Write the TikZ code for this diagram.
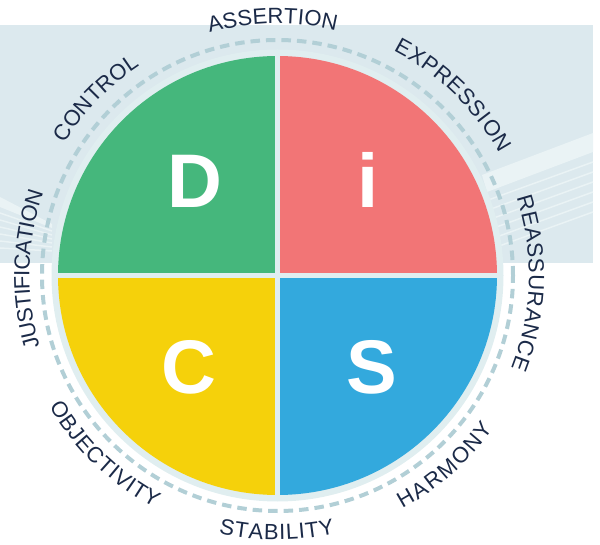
\documentclass[tikz,border=0pt]{standalone}
\usepackage{fontspec}
\setmainfont{Liberation Sans}
\definecolor{band}{HTML}{DCE9EE}
\definecolor{ray}{HTML}{EAF3F5}
\definecolor{ringc}{HTML}{E0EEF0}
\definecolor{dashc}{HTML}{B2CFD6}
\definecolor{dgreen}{HTML}{45B77C}
\definecolor{ired}{HTML}{F27576}
\definecolor{cyellow}{HTML}{F5D10B}
\definecolor{sblue}{HTML}{33A9DD}
\definecolor{navy}{HTML}{1B2A48}
\def\lblfs{22}
\def\lblfnt{\fontsize{22}{22}\selectfont}
% letter advance widths (em) of Liberation Sans
\def\wA{.667}\def\wB{.667}\def\wC{.722}\def\wE{.667}\def\wF{.611}
\def\wH{.722}\def\wI{.278}\def\wJ{.5}\def\wL{.556}\def\wM{.833}
\def\wN{.722}\def\wO{.778}\def\wP{.667}\def\wR{.722}\def\wS{.667}
\def\wT{.611}\def\wU{.722}\def\wV{.667}\def\wX{.667}\def\wY{.667}
% #1 centre angle, #2 mid radius, #3 +1 (top, clockwise) / -1 (bottom),
% #4 letter spacing, #5 letters
\newcommand\arclbl[5]{%
  \gdef\lbltot{0}%
  \foreach \ch in {#5}{%
    \pgfmathsetmacro\lbltmp{\lbltot+\csname w\ch\endcsname*\lblfs+(#4)}\global\let\lbltot\lbltmp}%
  \pgfmathsetmacro\lblarclen{\lbltot-(#4)}%
  \gdef\lblpos{0}%
  \foreach \ch in {#5}{%
    \pgfmathsetmacro\lblcw{\csname w\ch\endcsname*\lblfs}%
    \pgfmathsetmacro\lbls{\lblpos+\lblcw/2-\lblarclen/2}%
    \pgfmathsetmacro\lblang{#1-(#3)*\lbls/(#2)*180/pi}%
    \pgfmathsetmacro\lblrb{#2-(#3)*7.6}%
    \node[lbltext,rotate=\lblang-(#3)*90] at ([shift={(\lblang:\lblrb)}]O) {\ch};
    \pgfmathsetmacro\lbltmp{\lblpos+\lblcw+(#4)}\global\let\lblpos\lbltmp
  }}
\begin{document}
\begin{tikzpicture}[x=1pt,y=1pt,
  bigletter/.style={text=white,font=\fontsize{76}{76}\selectfont\bfseries,anchor=base,inner sep=0pt},
  lbltext/.style={text=navy,font=\lblfnt,anchor=base,inner sep=0pt},
  thinray/.style={draw=ray,line width=1.5pt}]
\useasboundingbox (0,0) rectangle (600,544);
\coordinate (O) at (277.5,268.5);
% background band
\fill[band] (0,281) rectangle (593,519);
% right rays
\fill[ray] (482,369) -- (593,411) -- (593,392) -- (487,352) -- cycle;
\foreach \yl in {341,331,321,311,301,291}{
  \draw[thinray] (480,\yl) -- (593,{\yl+41});
}
% left rays
\fill[ray] (0,347) -- (52,320) -- (52,316) -- (0,337) -- cycle;
\foreach \yl/\yr in {331/313,324/309,317/305,310/301,303/297,296/293}{
  \draw[thinray] (0,\yl) -- (52,\yr);
}
% ring
\fill[ringc] (O) circle[radius=226];
% quadrants
\fill[ired] (O) -- ++(0:219.5) arc[start angle=0,end angle=90,radius=219.5] -- cycle;
\fill[dgreen] (O) -- ++(90:219.5) arc[start angle=90,end angle=180,radius=219.5] -- cycle;
\fill[cyellow] (O) -- ++(180:219.5) arc[start angle=180,end angle=270,radius=219.5] -- cycle;
\fill[sblue] (O) -- ++(270:219.5) arc[start angle=270,end angle=360,radius=219.5] -- cycle;
\draw[ringc,line width=5pt] ([xshift=-221pt]O) -- ([xshift=221pt]O);
\draw[ringc,line width=5pt] ([yshift=-221pt]O) -- ([yshift=221pt]O);
% dashed circle
\draw[dashc,line width=4pt,dash pattern=on 9.5pt off 6pt] (O) circle[radius=235.5];
% labels
\arclbl{91.1}{259.5}{1}{0.5}{A,S,S,E,R,T,I,O,N}
\arclbl{45.8}{260.5}{1}{1.2}{E,X,P,R,E,S,S,I,O,N}
\arclbl{135.75}{258.5}{1}{0.7}{C,O,N,T,R,O,L}
\arclbl{-1.8}{259}{1}{1.2}{R,E,A,S,S,U,R,A,N,C,E}
\arclbl{178.55}{255.7}{1}{-0.3}{J,U,S,T,I,F,I,C,A,T,I,O,N}
\arclbl{-48.55}{257}{-1}{1.2}{H,A,R,M,O,N,Y}
\arclbl{-90.15}{256.8}{-1}{0.55}{S,T,A,B,I,L,I,T,Y}
\arclbl{-134.05}{255.4}{-1}{0.3}{O,B,J,E,C,T,I,V,I,T,Y}
% big letters
\node[bigletter] (D) at (195,336) {D};
\node[bigletter] (I) at (368.5,336) {i};
\node[bigletter] (C) at (189,150) {C};
\node[bigletter] (S) at (371.5,150) {S};
\end{tikzpicture}
\end{document}
